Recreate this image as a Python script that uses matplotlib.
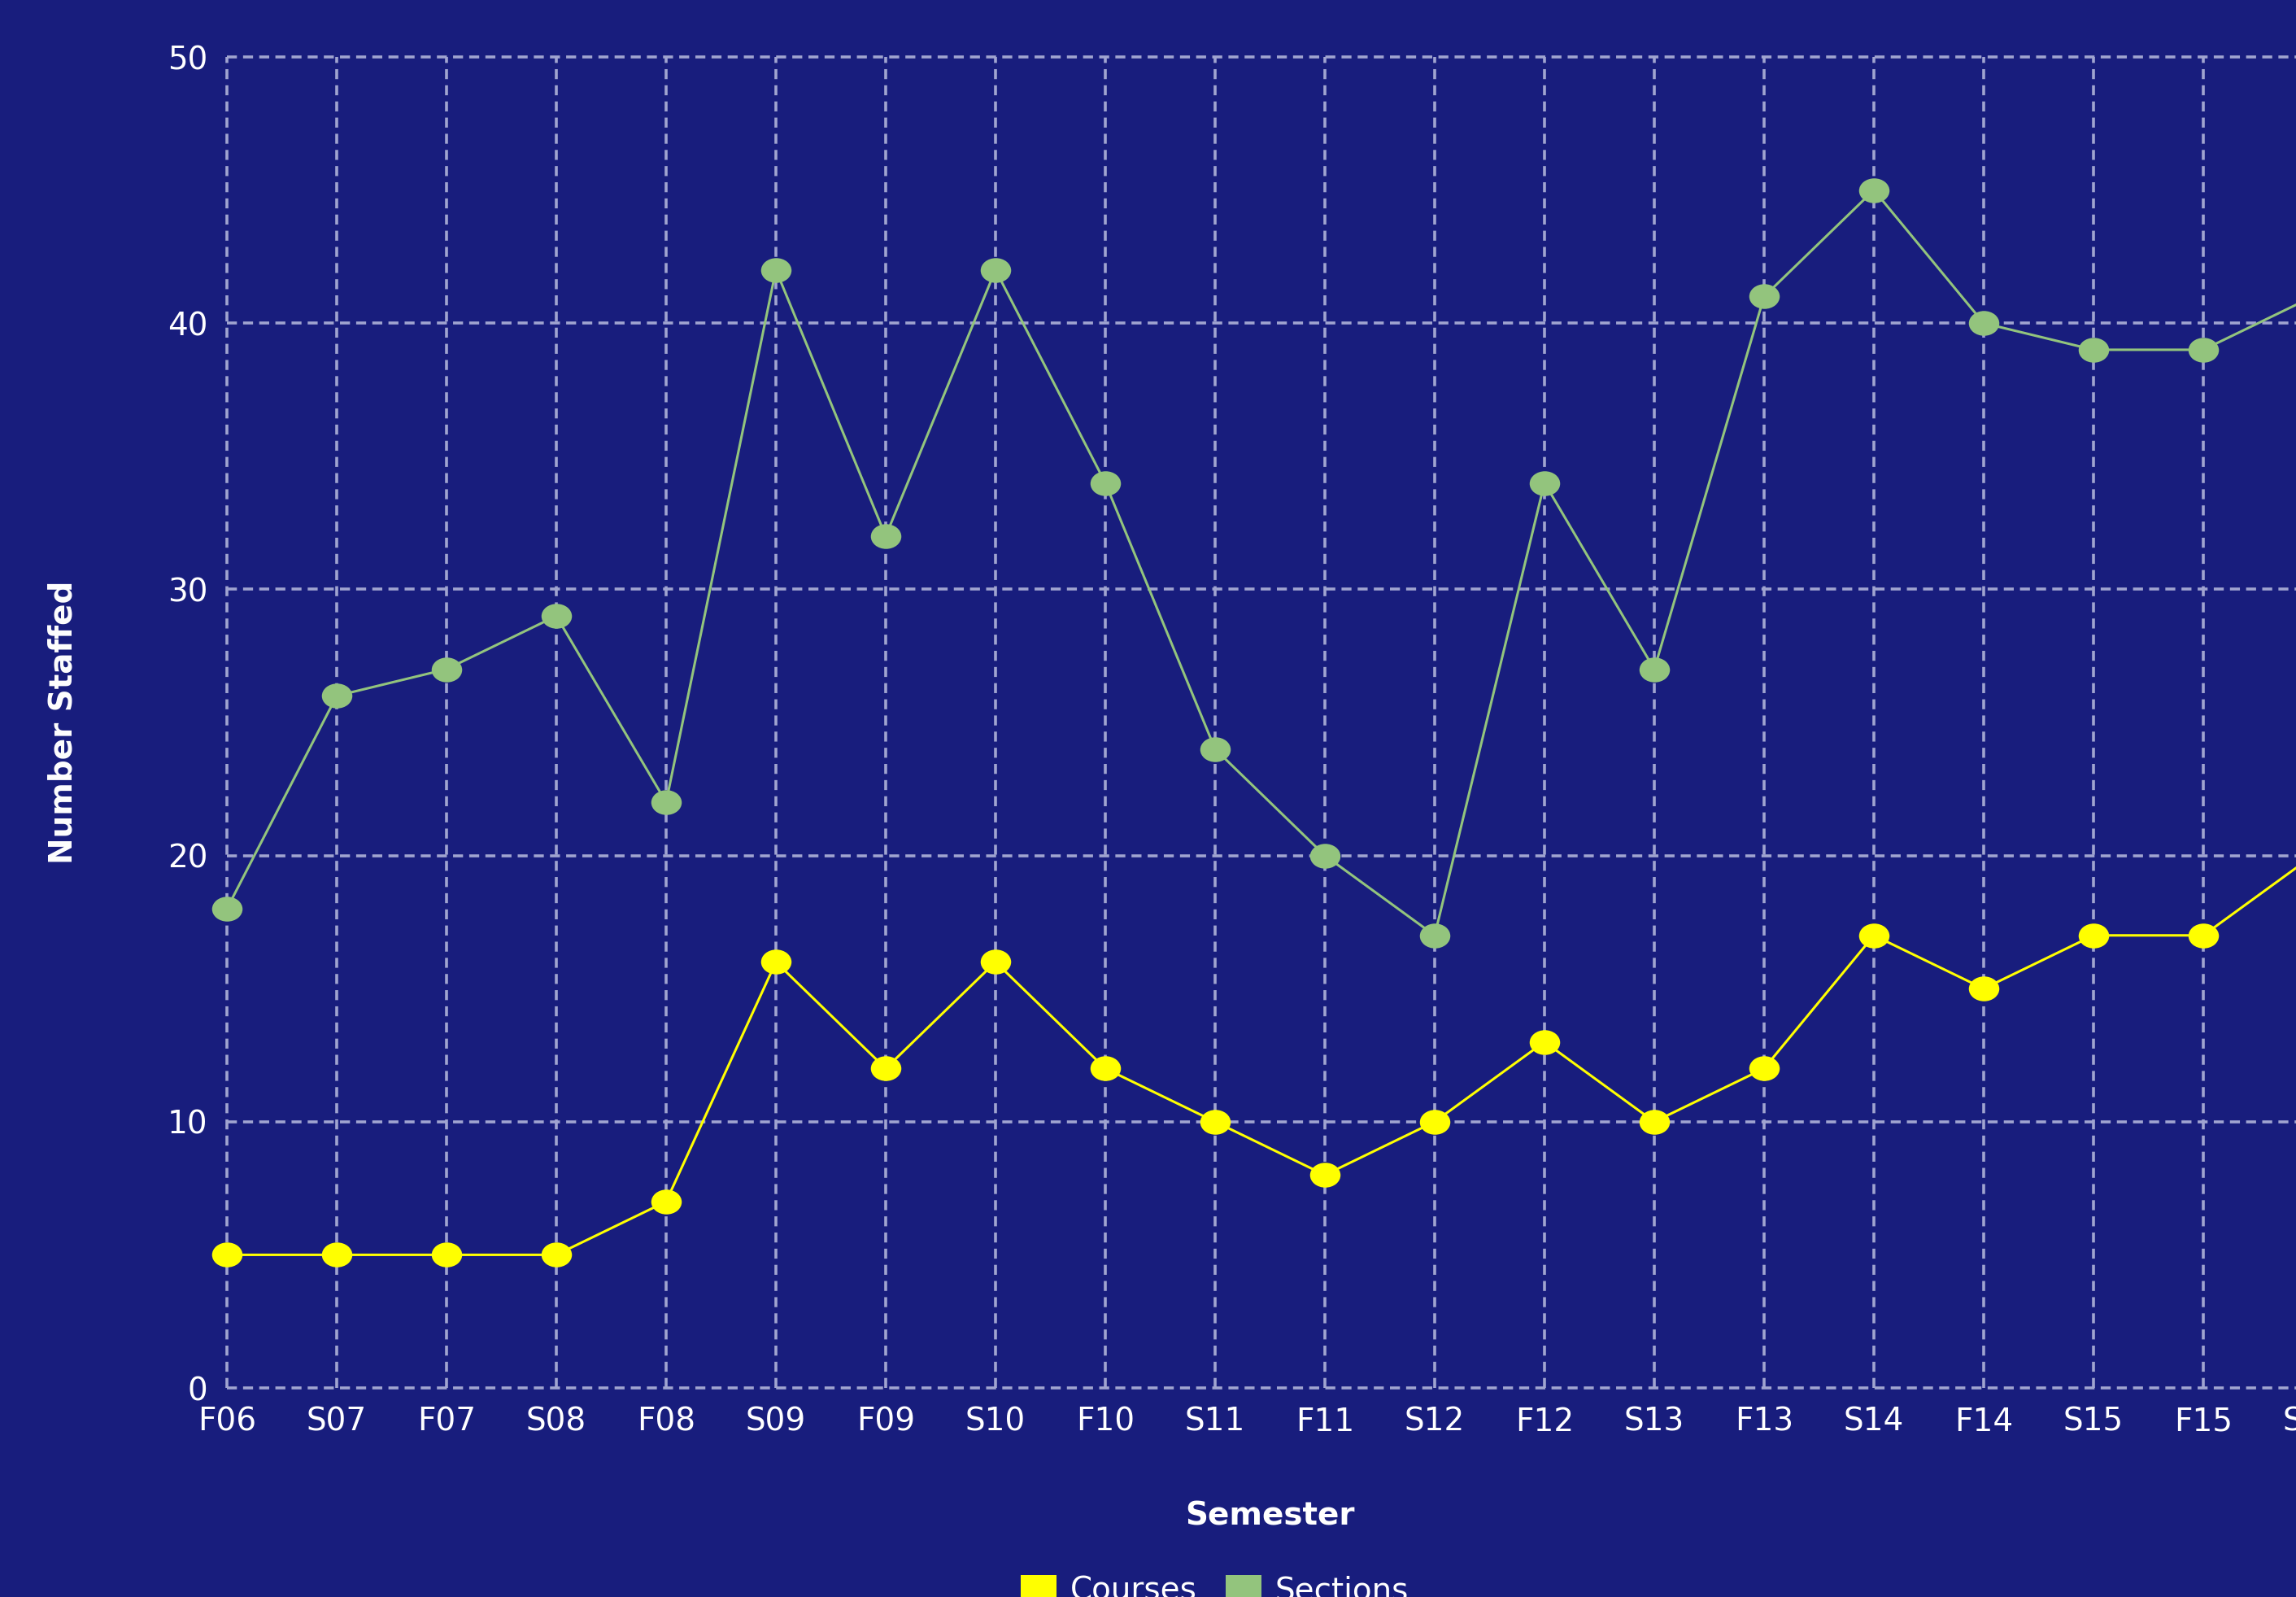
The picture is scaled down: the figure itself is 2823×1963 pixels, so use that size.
#!/usr/bin/env python3
"""Courses / sections staffed per semester (line chart, dark blue theme)."""
import matplotlib

matplotlib.use("Agg")
import matplotlib.pyplot as plt
from matplotlib.path import Path
from matplotlib.transforms import Affine2D
from matplotlib.patches import Patch

OUT = "out.png"

semesters = ["F06", "S07", "F07", "S08", "F08", "S09", "F09", "S10", "F10", "S11",
             "F11", "S12", "F12", "S13", "F13", "S14", "F14", "S15", "F15", "S16"]
courses = [5, 5, 5, 5, 7, 16, 12, 16, 12, 10, 8, 10, 13, 10, 12, 17, 15, 17, 17, 20]
sections = [18, 26, 27, 29, 22, 42, 32, 42, 34, 24, 20, 17, 34, 27, 41, 45, 40, 39, 39, 41]
y_ticks = [0, 10, 20, 30, 40, 50]

BG = "#181d7d"
GRID = "#a0a4d0"
YELLOW = "#ffff00"
GREEN = "#93c47d"

plt.rcParams["font.family"] = ["DejaVu Sans"]

# slightly wide ellipse marker, like the original
oval = Path.unit_circle().transformed(Affine2D().scale(1.23, 1.0))

fig = plt.figure(figsize=(28.23, 19.63), dpi=100, facecolor=BG)
# the plot area runs a little past the right edge of the picture (cropped original)
ax = fig.add_axes([0.09883, 0.13092, 0.90861, 0.83342], facecolor=BG)

xs = range(len(semesters))
ax.plot(xs, courses, color=YELLOW, lw=2.2, marker=oval, ms=27, mew=0,
        clip_on=False, zorder=3)
ax.plot(xs, sections, color=GREEN, lw=2.2, marker=oval, ms=27, mew=0,
        clip_on=False, zorder=3)

ax.set_xlim(0, len(semesters) - 1)
ax.set_ylim(0, 50)
ax.set_xticks(list(xs))
ax.set_xticklabels(semesters)
ax.set_yticks(y_ticks)
ax.tick_params(axis="x", length=0, pad=16.5, labelsize=28, labelcolor="white")
ax.tick_params(axis="y", length=0, pad=17, labelsize=28, labelcolor="white")

for s in ax.spines.values():
    s.set_visible(False)
ax.set_axisbelow(True)
ax.grid(True, color=GRID, lw=2.6, ls=(0, (3.4, 2.1)))
for gl in ax.get_xgridlines() + ax.get_ygridlines():
    gl.set_clip_on(False)

ax.set_xlabel("Semester", fontsize=28, fontweight="bold", color="white")
ax.xaxis.set_label_coords(0.5, -0.0844)
ax.set_ylabel("Number Staffed", fontsize=28, fontweight="bold", color="white")
ax.yaxis.set_label_coords(-0.071, 0.5)

handles = [Patch(facecolor=YELLOW, edgecolor="none", label="Courses"),
           Patch(facecolor=GREEN, edgecolor="none", label="Sections")]
fig.legend(handles=handles, loc="upper center", bbox_to_anchor=(0.529, 0.0138),
           ncol=2, frameon=False, fontsize=28, labelcolor="white",
           handlelength=1.15, handleheight=0.95, handletextpad=0.42,
           columnspacing=0.9, borderpad=0, borderaxespad=0)

fig.savefig(OUT, dpi=100, facecolor=BG)
print(f"Wrote {OUT}")
